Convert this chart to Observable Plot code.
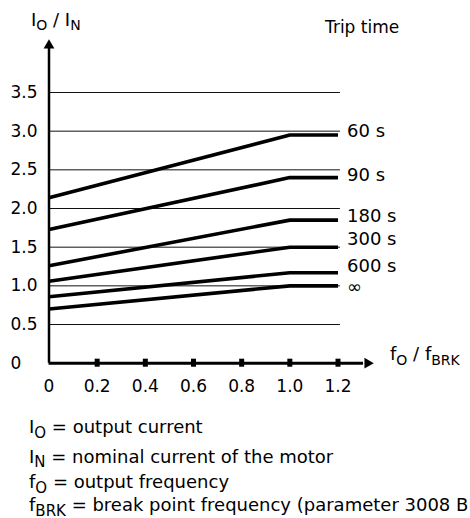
<!DOCTYPE html>
<html><head><meta charset="utf-8">
<script src="https://cdn.jsdelivr.net/npm/d3@7"></script>
<script src="https://cdn.jsdelivr.net/npm/@observablehq/plot@0.6"></script>
<style>
body{margin:0;background:#fff;font-family:"DejaVu Sans",sans-serif;}
svg{display:block}
</style></head><body><div id="chart"></div>
<script>
const tripTimes = ["60 s", "90 s", "180 s", "300 s", "600 s", "∞"];
const ratioAtZero = [2.14, 1.73, 1.26, 1.06, 0.86, 0.70];
const ratioAtBreak = [2.95, 2.40, 1.85, 1.50, 1.17, 1.00];
const freqPoints = [0, 1.0, 1.2];
const labelLevel = [3.00, 2.43, 1.90, 1.60, 1.25, 0.98];
const yTicks = [0, 0.5, 1.0, 1.5, 2.0, 2.5, 3.0, 3.5];
const yTickLabels = ["0", "0.5", "1.0", "1.5", "2.0", "2.5", "3.0", "3.5"];
const xTicks = [0, 0.2, 0.4, 0.6, 0.8, 1.0, 1.2];
const xTickLabels = ["0", "0.2", "0.4", "0.6", "0.8", "1.0", "1.2"];
const gridLevels = [0.5, 1.0, 1.5, 2.0, 2.5, 3.0, 3.5];
const captionLines = [
  [["I", false], ["O", true], [" = output current", false]],
  [["I", false], ["N", true], [" = nominal current of the motor", false]],
  [["f", false], ["O", true], [" = output frequency", false]],
  [["f", false], ["BRK", true], [" = break point frequency (parameter 3008 BREAK POINT)", false]]
];

const curves = tripTimes.flatMap((t, i) => freqPoints.map((f, j) => ({trip: t, f, r: j === 0 ? ratioAtZero[i] : ratioAtBreak[i]})));

const plot = Plot.plot({
  width: 470, height: 400,
  marginLeft: 48.5, marginRight: 132.5, marginTop: 92, marginBottom: 37.3,
  x: {domain: [0, 1.2], axis: null},
  y: {domain: [0, 3.5], axis: null},
  style: {fontFamily: "DejaVu Sans", fontSize: "17px", color: "#000", background: "#fff", overflow: "visible"},
  marks: [
    Plot.ruleY(gridLevels, {x1: 0, x2: 1.21, stroke: "#111", strokeWidth: 1}),
    Plot.line(curves, {x: "f", y: "r", z: "trip", stroke: "#000", strokeWidth: 3.6, strokeLinecap: "butt", strokeLinejoin: "round"}),
    Plot.ruleX([0], {y1: 0, y2: 4.07, stroke: "#000", strokeWidth: 2.5}),
    Plot.ruleY([0], {x1: 0, x2: 1.306, stroke: "#000", strokeWidth: 3}),
    Plot.ruleX(xTicks.slice(1), {y1: -0.052, y2: 0.052, stroke: "#000", strokeWidth: 5}),
    Plot.dot([{x: 0, y: 4.07}], {x: "x", y: "y", symbol: "triangle", r: 4, dy: -3, fill: "#000", stroke: "none"}),
    Plot.dot([{x: 1.306, y: 0}], {x: "x", y: "y", symbol: "triangle", r: 4, dx: 4, rotate: 90, fill: "#000", stroke: "none"}),
    Plot.text(yTicks, {x: 0, y: d => d, text: (d, i) => yTickLabels[i], dx: -38.5, textAnchor: "start", fontSize: 17, fill: "#000"}),
    Plot.text(xTicks, {x: d => d, y: 0, text: (d, i) => xTickLabels[i], dy: 23, fontSize: 17, fill: "#000"}),
    Plot.text(tripTimes, {x: 1.2, y: (d, i) => labelLevel[i], text: d => d, dx: 9, textAnchor: "start", fontSize: 18, fill: "#000"})
  ]
});

const sx = plot.scale("x"), sy = plot.scale("y");
const X = v => sx.apply(v), Y = v => sy.apply(v);

function addText(sel, x, y, parts, size, subSize, subDy) {
  const t = sel.append("text").attr("x", x).attr("y", y).attr("text-anchor", "start")
    .attr("font-family", "DejaVu Sans").attr("font-size", size).attr("fill", "#000");
  let shifted = false;
  parts.forEach(([str, sub]) => {
    const ts = t.append("tspan").text(str);
    if (sub) { ts.attr("font-size", subSize); if (!shifted) { ts.attr("dy", subDy); shifted = true; } }
    else if (shifted) { ts.attr("dy", -subDy); shifted = false; }
  });
  return t;
}

const svg = d3.select(plot);
addText(svg, X(0) - 17.5, Y(3.5) - 66, [["I", false], ["O", true], [" / I", false], ["N", true]], 18, 14, 4);
addText(svg, X(1.2) - 12.5, Y(3.5) - 59, [["Trip time", false]], 17, 14, 4);
addText(svg, X(1.2) + 52.5, Y(0) - 2.5, [["f", false], ["O", true], [" / f", false], ["BRK", true]], 18, 14, 5);

const cap = d3.create("svg").attr("width", 470).attr("height", 118).style("overflow", "hidden");
const baselines = [33, 62.5, 88, 111];
captionLines.forEach((parts, i) => addText(cap, 29, baselines[i], parts, 18, 15, 4.5));

const holder = document.getElementById("chart");
holder.appendChild(plot);
holder.appendChild(cap.node());
</script></body></html>
